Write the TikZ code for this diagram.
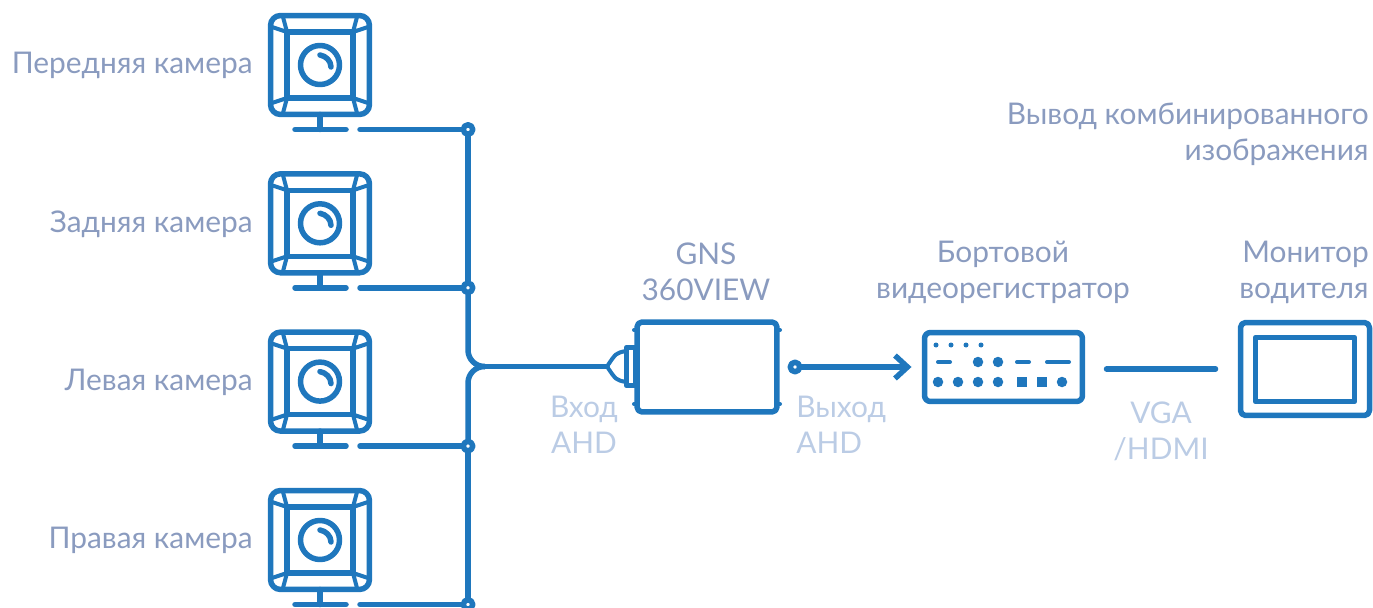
\documentclass[tikz,border=0pt]{standalone}
\usepackage{fontspec}
\setmainfont{Lato}
\usetikzlibrary{arrows.meta}
\definecolor{wire}{HTML}{1F77BD}
\definecolor{txtdark}{HTML}{8A9BBF}
\definecolor{txtlight}{HTML}{BBCCE5}
\tikzset{
  line/.style={draw=wire,line width=0.11cm,line cap=round,line join=round},
  frame/.style={line,rectangle,outer sep=0pt,inner sep=0pt,fill=white},
  tap/.style={frame,circle,minimum size=0.19cm},
  label/.style={inner sep=0pt,align=#1,font=\fontsize{17}{20.4}\selectfont},
  label/.default=center,
  dark/.style={label=#1,text=txtdark},
  dark/.default=center,
  pale/.style={label=#1,text=txtlight},
  pale/.default=center
}
\begin{document}
\begin{tikzpicture}[x=0.02cm,y=-0.02cm]
  \useasboundingbox (0,0) rectangle (1373,608);
  % камеры
  \foreach \i/\yy/\txt in {1/0/Передняя камера,2/158.3/Задняя камера,3/316.6/Левая камера,4/475/Правая камера}{
    \begin{scope}[shift={(0,\yy)}]
      \node[frame,rounded corners=0.2cm,minimum width=1.98cm,minimum height=1.98cm] (cam\i) at (320,65) {};
      \node[frame,minimum width=1.32cm,minimum height=1.32cm] (lens\i) at (320,65) {};
      \node[frame,circle,minimum size=0.78cm] (eye\i) at (320,65) {};
      \draw[line] (320,55) .. controls (326,56) and (331,61) .. (331,67);
      % уголки
      \draw[line,line width=0.08cm] (lens\i.north west) -- (272,27) (lens\i.north west) -- (283,17);
      \draw[line,line width=0.08cm] (lens\i.north east) -- (368,27) (lens\i.north east) -- (357,17);
      \draw[line,line width=0.08cm] (lens\i.south west) -- (272,103) (lens\i.south west) -- (283,113);
      \draw[line,line width=0.08cm] (lens\i.south east) -- (368,103) (lens\i.south east) -- (357,113);
      \coordinate (foot\i) at (320,129.5);
      \draw[line] (cam\i.south) -- (foot\i);
      \draw[line] (295,129.5) -- (346,129.5);
      \coordinate (start\i) at (360,129.5);
      \node[tap] (tap\i) at (468,129.5) {};
      \node[dark=right,anchor=east] (name\i) at (253,65.5) {\txt};
    \end{scope}
    \draw[line] (start\i) -- (tap\i);
  }
  \coordinate (jun) at (484,366.5);
  \draw[line] (tap1) -- (tap2);
  \draw[line] (tap3) -- (tap4);
  \draw[line,rounded corners=0.33cm] (tap2.south) |- (jun);
  \draw[line,rounded corners=0.33cm] (tap3.north) |- (jun);
  % блок GNS
  \node[frame,rounded corners=0.1cm,minimum width=2.8cm,minimum height=1.8cm] (gns) at (707,367) {};
  \node[frame,minimum width=0.18cm,minimum height=0.76cm] (plug) at (631,366.5) {};
  \coordinate (plugtip) at (607,366.5);
  \draw[line] (jun) -- (plugtip);
  \draw[line,line width=0.08cm] (626,351) .. controls (616,353) .. (plugtip) .. controls (616,380) .. (626,382);
  \draw[line,line width=0.08cm] (634,330) -- (637,330) (634,404) -- (637,404) (777,330) -- (780,330) (777,404) -- (780,404);
  \node[tap] (gnsout) at (795,367) {};
  % регистратор
  \node[frame,rounded corners=0.12cm,minimum width=3.16cm,minimum height=1.38cm] (rec) at (1003.5,367) {};
  \draw[line,-{Straight Barb[length=0.25cm,width=0.46cm]}] (gnsout) -- ([xshift=-0.26cm]rec.west);
  \foreach \x in {936,951,966,981} \fill[wire] (\x,345) circle (0.05cm);
  \foreach \x in {978,998} \fill[wire] (\x,362) circle (0.105cm);
  \foreach \x in {938,958,978,998,1062} \fill[wire] (\x,382) circle (0.105cm);
  \foreach \x in {1022,1042} \fill[wire] (\x-5,377) rectangle (\x+5,387);
  \draw[line,line width=0.08cm] (938,362) -- (950,362) (1017,362) -- (1029,362) (1047,362) -- (1069,362);
  % монитор
  \node[frame,rounded corners=0.1cm,minimum width=2.58cm,minimum height=1.86cm] (mon) at (1305,369) {};
  \node[frame,minimum width=1.98cm,minimum height=1.28cm] (screen) at (1305,369.5) {};
  \draw[line] ([xshift=-2.68cm]mon.west) -- ([xshift=-0.5cm]mon.west);
  % подписи
  \node[dark=right,anchor=east] (lbloutput) at (1369,134.5) {Вывод комбинированного\\изображения};
  \node[dark] (lblgns) at (706,272) {GNS\\360VIEW};
  \node[dark] (lblrec) at (1003,272) {Бортовой\\видеорегистратор};
  \node[dark=right,anchor=east] (lblmon) at (1369,272) {Монитор\\водителя};
  \node[pale] (lblin) at (584,425) {Вход\\AHD};
  \node[pale=left,anchor=west] (lblout) at (796,425) {Выход\\AHD};
  \node[pale] (lblvga) at (1161,431) {VGA\\/HDMI};
\end{tikzpicture}
\end{document}
